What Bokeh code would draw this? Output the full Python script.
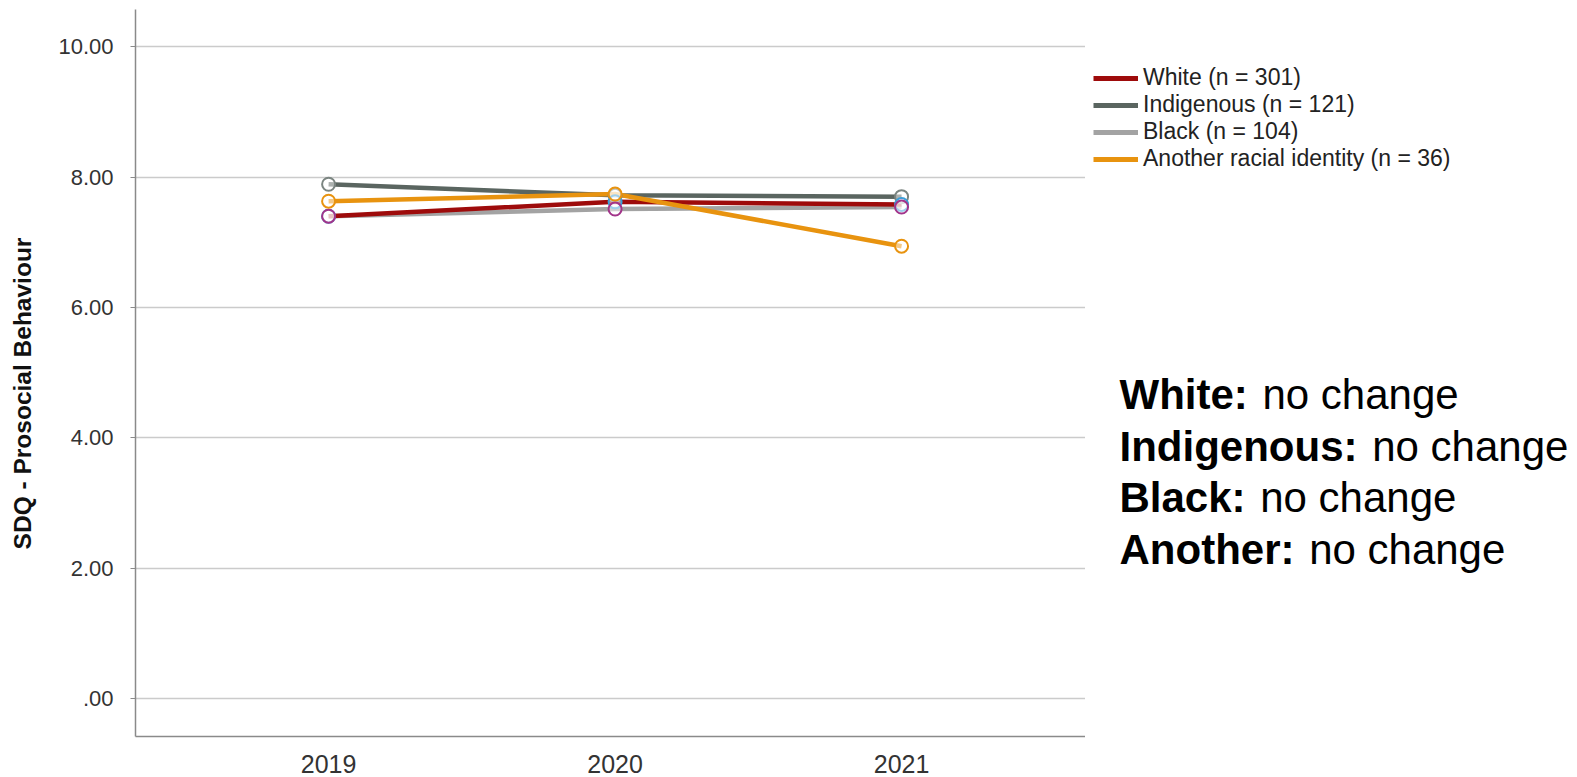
import math
from bokeh.plotting import figure
from bokeh.layouts import row
from bokeh.models import Range1d, FixedTicker, Legend, LegendItem, Label
from bokeh.embed import file_html
from bokeh.resources import INLINE

# ---------------- data ----------------
years = [2019, 2020, 2021]
groups = ["White", "Indigenous", "Black", "Another racial identity"]
group_n = [301, 121, 104, 36]
white = [7.40, 7.62, 7.58]
indigenous = [7.89, 7.72, 7.70]
black = [7.40, 7.51, 7.54]
another = [7.63, 7.74, 6.94]
y_ticks = [0, 2, 4, 6, 8, 10]
y_tick_labels = [".00", "2.00", "4.00", "6.00", "8.00", "10.00"]
y_title = "SDQ - Prosocial Behaviour"
note_heads = ["White:", "Indigenous:", "Black:", "Another:"]
note_tails = ["no change", "no change", "no change", "no change"]

# ---------------- styles ----------------
FONT = "Liberation Sans"
line_colors = {"White": "#9e0b0b", "Indigenous": "#5a6560",
               "Black": "#a3a3a3", "Another racial identity": "#e8930f"}
marker_colors = {"White": "#3b9fd8", "Indigenous": "#7b8581",
                 "Black": "#a2348a", "Another racial identity": "#e8930f"}
values = {"White": white, "Indigenous": indigenous, "Black": black,
          "Another racial identity": another}

H = 777
W_TITLE = 40
W_MAIN = 1085 - W_TITLE
W_SIDE = 1577 - 1085


def blank_figure(width):
    f = figure(width=width, height=H, output_backend="svg", toolbar_location=None,
               x_range=Range1d(0, 1), y_range=Range1d(0, 1),
               x_axis_type=None, y_axis_type=None,
               min_border_left=0, min_border_right=0, min_border_top=0,
               min_border_bottom=0)
    f.outline_line_color = None
    f.xgrid.grid_line_color = None
    f.ygrid.grid_line_color = None
    f.background_fill_color = "white"
    f.border_fill_color = "white"
    return f


# ---------------- y-axis title strip ----------------
t = blank_figure(W_TITLE)
t.add_layout(Label(x=22, y=343, x_units="screen", y_units="screen",
                   text=y_title, angle=math.pi / 2, text_align="center",
                   text_baseline="middle", text_font=FONT,
                   text_font_size="24.5px", text_font_style="bold",
                   text_color="#111111"))

# ---------------- main chart ----------------
p = figure(width=W_MAIN, height=H, output_backend="svg", toolbar_location=None,
           x_range=Range1d(2018.326, 2021.642), y_range=Range1d(-0.58, 10.57),
           min_border_left=135 - W_TITLE, min_border_right=0, min_border_top=9,
           min_border_bottom=41)
p.outline_line_color = None
p.background_fill_color = "white"
p.border_fill_color = "white"

p.xaxis.ticker = FixedTicker(ticks=years)
p.xaxis.major_tick_line_color = None
p.xaxis.minor_tick_line_color = None
p.xaxis.axis_line_color = "#8a8a8a"
p.xaxis.axis_line_width = 1.5
p.xaxis.major_label_text_font = FONT
p.xaxis.major_label_text_font_size = "25px"
p.xaxis.major_label_text_color = "#333333"
p.xaxis.major_label_standoff = 12

p.yaxis.ticker = FixedTicker(ticks=y_ticks)
p.yaxis.major_label_overrides = {t_: l for t_, l in zip(y_ticks, y_tick_labels)}
p.yaxis.minor_tick_line_color = None
p.yaxis.major_tick_out = 5
p.yaxis.major_tick_in = 0
p.yaxis.major_tick_line_color = "#8a8a8a"
p.yaxis.axis_line_color = "#8a8a8a"
p.yaxis.axis_line_width = 1.5
p.yaxis.major_label_text_font = FONT
p.yaxis.major_label_text_font_size = "22px"
p.yaxis.major_label_text_color = "#333333"
p.yaxis.major_label_standoff = 17

p.xgrid.grid_line_color = None
p.ygrid.grid_line_color = "#cbcbcb"
p.ygrid.grid_line_width = 1.5

draw_order = ["Black", "Indigenous", "White", "Another racial identity"]
for g in draw_order:
    p.line(years, values[g], line_color=line_colors[g], line_width=4.5)

marker_order = ["Indigenous", "White", "Black", "Another racial identity"]
for g in marker_order:
    p.scatter(years, values[g], marker="circle", size=13, line_width=2,
              line_color=marker_colors[g], fill_color="white", fill_alpha=0.5)

# ---------------- side panel: legend + notes ----------------
s = blank_figure(W_SIDE)

legend_r = {}
for g in groups:
    legend_r[g] = s.line(years, values[g], line_color=line_colors[g],
                         line_width=5, visible=False)

items = [LegendItem(label=f"{g} (n = {n})", renderers=[legend_r[g]])
         for g, n in zip(groups, group_n)]
legend = Legend(items=items, location=(8, 564), orientation="vertical",
                glyph_width=45, glyph_height=20, label_height=20, spacing=0,
                padding=0, margin=0, label_standoff=5, click_policy="none",
                border_line_color=None, background_fill_alpha=0,
                label_text_font=FONT, label_text_font_size="23px",
                label_text_color="#222222")
s.add_layout(legend)

bold_w = {"W": 944, "h": 611, "i": 278, "t": 333, "e": 556, ":": 333, "I": 278,
          "n": 611, "d": 611, "g": 611, "o": 611, "u": 611, "s": 556, "B": 722,
          "l": 278, "a": 556, "c": 556, "k": 556, "A": 722, "r": 389, " ": 278}
NOTE_SIZE = 42
note_x = 34
note_y0 = 342
note_pitch = 51.5
for i, (head, tail) in enumerate(zip(note_heads, note_tails)):
    y = note_y0 - i * note_pitch
    s.add_layout(Label(x=note_x, y=y, x_units="screen", y_units="screen",
                       text=head, text_font=FONT, text_font_size=f"{NOTE_SIZE}px",
                       text_font_style="bold", text_color="black",
                       text_baseline="alphabetic", text_align="left"))
    w = sum(bold_w.get(ch, 556) for ch in head + " ") * NOTE_SIZE / 1000
    s.add_layout(Label(x=note_x + w + 3, y=y, x_units="screen", y_units="screen",
                       text=tail, text_font=FONT, text_font_size=f"{NOTE_SIZE}px",
                       text_color="black", text_baseline="alphabetic",
                       text_align="left"))

layout = row(t, p, s, spacing=0)
open("out.html", "w").write(file_html(layout, INLINE))
